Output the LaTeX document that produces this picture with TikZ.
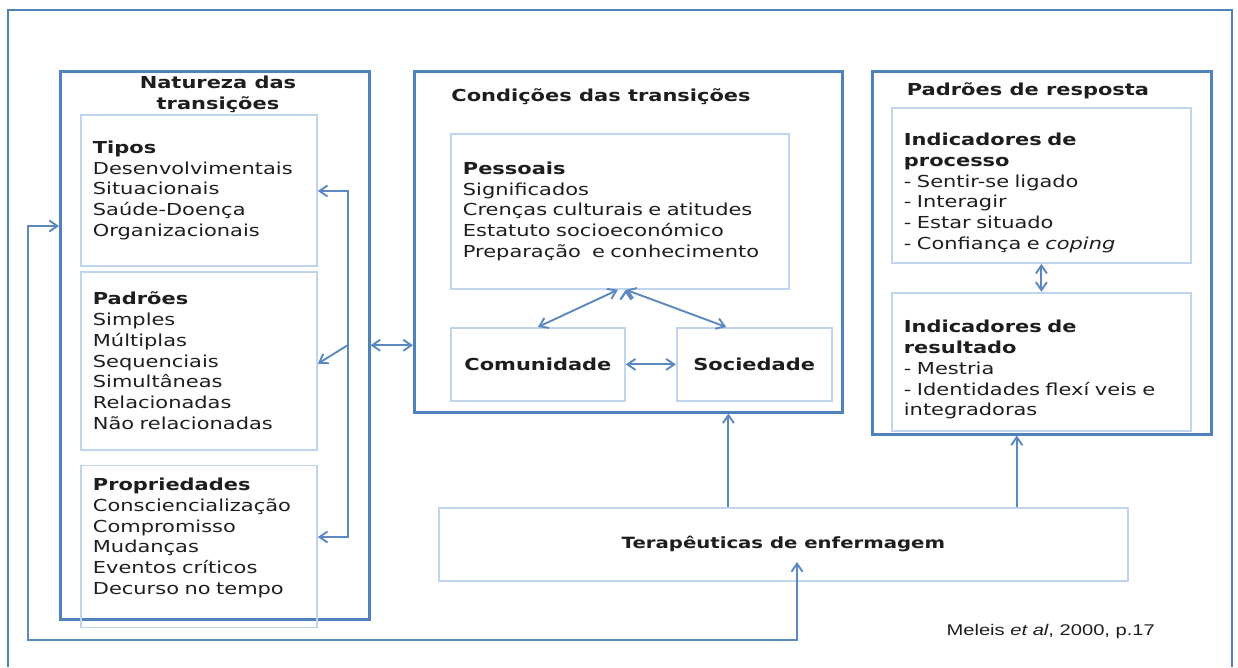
\documentclass[tikz,border=0pt]{standalone}
\usepackage{fontspec}
\setmainfont{DejaVu Sans}[FakeStretch=1.27]
\newfontfamily\citefont{Liberation Sans}[FakeStretch=1.3]
\usetikzlibrary{positioning}
\usetikzlibrary{arrows.meta}
\definecolor{boxblue}{RGB}{79,129,189}
\definecolor{paleblue}{RGB}{193,212,238}
\definecolor{arrblue}{RGB}{92,136,194}
\definecolor{inkgray}{RGB}{30,30,30}

\tikzset{
  outerframe/.style={draw=boxblue, line width=2pt},
  bigbox/.style={draw=boxblue, line width=2.5pt, anchor=north west, inner sep=0pt},
  subbox/.style={draw=paleblue, line width=1.8pt, anchor=north west, align=left,
    inner xsep=12pt, inner ysep=0pt, text=inkgray, font=\fontsize{16.5}{20.7}\selectfont},
  boldbox/.style={subbox, font=\fontsize{16.5}{20.7}\selectfont\bfseries},
  headtext/.style={text=inkgray, align=center, font=\fontsize{16.5}{20.7}\selectfont\bfseries},
  arrowline/.style={draw=arrblue, line width=1.9pt}
}

\begin{document}
\begin{tikzpicture}[x=1pt,y=-1pt,>={Straight Barb[length=8pt,width=11pt]}]
\useasboundingbox (0,0) rectangle (1238,667);
\draw[outerframe] (8,667) -- (8,10) -- (1232,10) -- (1232,667);

% natureza das transicoes
\node[bigbox, minimum width=309pt, minimum height=548pt] (natur) at (59,70) {};
\node[headtext] (naturtitle) at (218,94) {Natureza das\\transições};
\node[subbox, text width=212pt, minimum height=151pt] (tipos) at (80,114)
  {\textbf{Tipos}\\Desenvolvimentais\\Situacionais\\Saúde-Doença\\Organizacionais};
\node[subbox, text width=212pt, minimum height=178pt, below=4pt of tipos] (padroes)
  {\textbf{Padrões}\\Simples\\Múltiplas\\Sequenciais\\Simultâneas\\Relacionadas\\Não relacionadas};
\node[subbox, text width=212pt, minimum height=162pt, below=14pt of padroes] (props)
  {\textbf{Propriedades}\\Consciencialização\\Compromisso\\Mudanças\\Eventos críticos\\Decurso no tempo\\ \mbox{}};

% condicoes das transicoes
\node[bigbox, minimum width=428pt, minimum height=341pt] (condi) at (413,70) {};
\node[headtext] (condititle) at (601,97) {Condições das transições};
\node[subbox, text width=314pt, minimum height=155pt] (pess) at (450,133)
  {\textbf{Pessoais}\\Significados\\Crenças culturais e atitudes\\Estatuto socioeconómico\\Preparação\ \ e conhecimento};
\node[boldbox, minimum width=174pt, minimum height=73pt] (comun) at (450,327) {Comunidade};
\node[boldbox, minimum width=155pt, minimum height=73pt, right=50pt of comun] (socie) {Sociedade};

% padroes de resposta
\node[bigbox, minimum width=339pt, minimum height=363pt] (resp) at (871,70) {};
\node[headtext] (resptitle) at (1028,91) {Padrões de resposta};
\node[subbox, text width=275pt, minimum height=155pt] (proc) at (891,107)
  {\mbox{}\\[7pt]\textbf{Indicadores de}\\\textbf{processo}\\- Sentir-se ligado\\- Interagir\\- Estar situado\\- Confiança e \textit{coping}};
\node[subbox, text width=275pt, minimum height=138pt, below=28pt of proc] (result)
  {\mbox{}\\[8pt]\textbf{Indicadores de}\\\textbf{resultado}\\- Mestria\\- Identidades flexí veis e\\integradoras};

\node[boldbox, minimum width=689pt, minimum height=73pt, font=\fontsize{15.5}{19}\selectfont\bfseries] (tera) at (438,507)
  {Terapêuticas de enfermagem};
\node[anchor=west, text=inkgray, font=\citefont\fontsize{15.5}{18}\selectfont] (cite) at (943,631)
  {Meleis \textit{et al}, 2000,\ p.17};

% connectors
\coordinate (brtop) at (348,191);
\coordinate (brmid) at (348,345);
\coordinate (brbot) at (348,537);
\draw[arrowline,<->] (brtop -| tipos.east) -- (brtop) -- (brbot) -- (brbot -| props.east);
\draw[arrowline,->] (brmid) -- ([yshift=-3pt]padroes.east);
\draw[arrowline,<->] (natur.east) -- (natur.east -| condi.west);
\path[arrowline,<->]
  ([xshift=-2pt]pess.south) edge (comun.north)
  ([xshift=6pt]pess.south) edge ([xshift=-28pt]socie.north)
  (comun) edge (socie)
  (proc) edge (result);
\draw[arrowline,->] ([xshift=-55pt]tera.north) -- ([xshift=-55pt]tera.north |- condi.south);
\draw[arrowline,->] ([xshift=-25pt]resp.south |- tera.north) -- ([xshift=-25pt]resp.south);
\coordinate (fbin) at (28,226);
\coordinate (fbout) at (797,640);
\coordinate (fbtip) at (797,562);
\draw[arrowline,<->] (fbin -| natur.west) -- (fbin) -- (fbin |- fbout) -- (fbout) -- (fbtip);
\end{tikzpicture}
\end{document}
